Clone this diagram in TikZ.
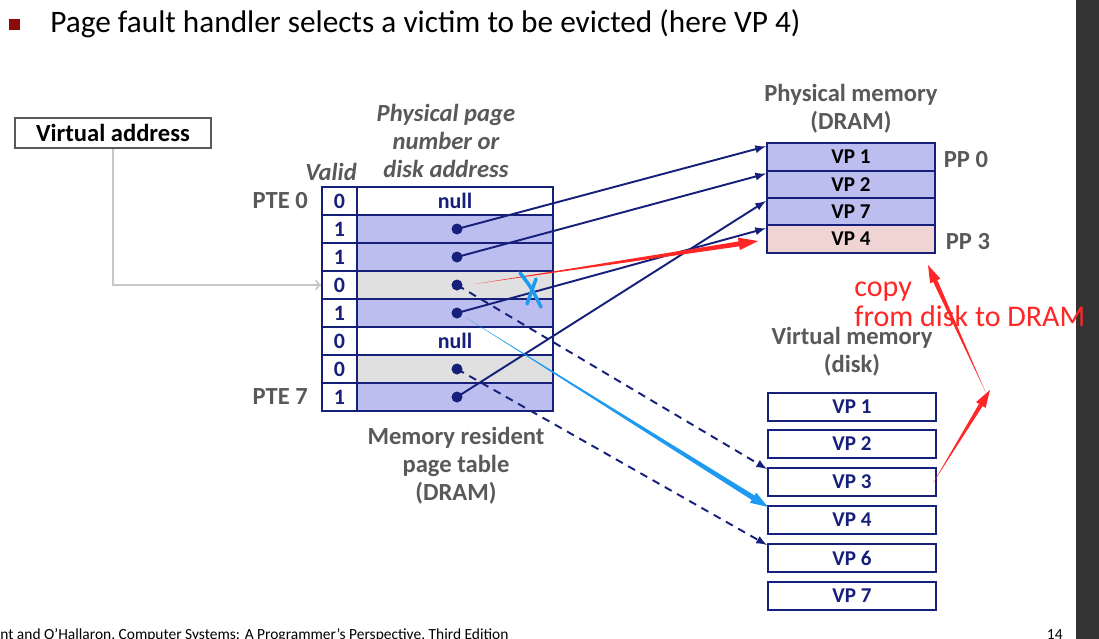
\documentclass[tikz,border=0pt]{standalone}
\usepackage{fontspec}
\setmainfont{Carlito}
\usepackage{xcolor}
\usetikzlibrary{calc, arrows}

\definecolor{pgnavy}{HTML}{16207A}
\definecolor{pgblue}{HTML}{BCBEF0}
\definecolor{pggray}{HTML}{E0E0E0}
\definecolor{pgpink}{HTML}{F0D4D4}
\definecolor{lblgray}{HTML}{595959}
\definecolor{arrgray}{HTML}{C8C8C8}
\definecolor{xblue}{HTML}{1E9BF0}
\definecolor{cpred}{HTML}{FF2626}
\definecolor{sidebar}{HTML}{333333}
\definecolor{bulletred}{HTML}{8B0A0A}

% tapered arrow: colour, start, tip, shaft half width, head half width, head length
\newcommand{\taperarrow}[6]{%
  \coordinate (tpb) at ($(#3)!#6!(#2)$);
  \fill[#1] (#2) -- ($(tpb)!#4!90:(#2)$) -- ($(tpb)!#5!90:(#2)$) -- (#3)
    -- ($(tpb)!#5!-90:(#2)$) -- ($(tpb)!#4!-90:(#2)$) -- cycle;}

\begin{document}
\begin{tikzpicture}[x=0.02cm,y=-0.02cm,
  vcell/.style={draw=pgnavy, line width=1.1pt, fill=white, minimum width=0.7cm,
    minimum height=0.56cm, inner sep=0pt, text=pgnavy,
    font=\bfseries\fontsize{12.5}{14}\selectfont},
  pcell/.style={vcell, minimum width=3.92cm},
  pmcell/.style={draw=pgnavy, line width=1.1pt, fill=pgblue, minimum width=3.36cm,
    minimum height=0.546cm, inner sep=0pt, text=black,
    font=\bfseries\fontsize{12}{14}\selectfont},
  dkcell/.style={pmcell, fill=white, text=pgnavy, minimum height=0.56cm},
  lbl/.style={text=lblgray, align=center, font=\bfseries\fontsize{14}{15.9}\selectfont},
  ptr/.style={pgnavy, line width=1.1pt, -latex},
  dptr/.style={ptr, dash pattern=on 4.5pt off 3.5pt}]
\useasboundingbox (0,0) rectangle (1099,639);
\clip (0,0) rectangle (1099,639);

% title and footer
\fill[bulletred] (9,19) rectangle (20,30);
\node[anchor=base west, inner sep=0pt, font=\fontsize{17.8}{20}\selectfont] (title) at (50,32)
  {Page fault handler selects a victim to be evicted (here VP 4)};
\node[anchor=base west, inner sep=0pt, font=\fontsize{8.8}{10}\selectfont] (foot) at (0,639)
  {nt and O'Hallaron, Computer Systems: A Programmer's Perspective, Third Edition};
\node[anchor=base east, inner sep=0pt, font=\fontsize{8.8}{10}\selectfont] (pgno) at (1063,639) {14};

% virtual address
\node[draw=lblgray, line width=0.6pt, minimum width=3.92cm, minimum height=0.6cm, inner sep=0pt,
  font=\bfseries\fontsize{14}{15}\selectfont] (va) at (113,133) {Virtual address};

% page table
\node[vcell] (v0) at (339.5,201) {0};
\node[vcell] (v1) at (339.5,229) {1};
\node[vcell] (v2) at (339.5,257) {1};
\node[vcell] (v3) at (339.5,285) {0};
\node[vcell] (v4) at (339.5,313) {1};
\node[vcell] (v5) at (339.5,341) {0};
\node[vcell] (v6) at (339.5,369) {0};
\node[vcell] (v7) at (339.5,397) {1};
\node[pcell] (p0) at (455,201) {null};
\node[pcell, fill=pgblue] (p1) at (455,229) {};
\node[pcell, fill=pgblue] (p2) at (455,257) {};
\node[pcell, fill=pggray] (p3) at (455,285) {};
\node[pcell, fill=pgblue] (p4) at (455,313) {};
\node[pcell] (p5) at (455,341) {null};
\node[pcell, fill=pggray] (p6) at (455,369) {};
\node[pcell, fill=pgblue] (p7) at (455,397) {};

\node[lbl, font=\bfseries\itshape\fontsize{14}{15.9}\selectfont] (valid) at (331,172) {Valid};
\node[lbl, font=\bfseries\itshape\fontsize{14}{15.9}\selectfont] (ppn) at (446,141)
  {Physical page\\number or\\disk address};
\node[lbl, anchor=east] (pte0) at (314,201) {PTE 0};
\node[lbl, anchor=east] (pte7) at (314,397) {PTE 7};
\node[lbl] (ptlbl) at (456,466) {Memory resident\\page table\\(DRAM)};

% physical memory
\node[lbl] (pmlbl) at (851,109) {Physical memory\\(DRAM)};
\node[pmcell] (pm0) at (851,157) {VP 1};
\node[pmcell] (pm1) at (851,184.3) {VP 2};
\node[pmcell] (pm2) at (851,211.6) {VP 7};
\node[pmcell, fill=pgpink] (pm3) at (851,238.9) {VP 4};
\node[lbl] (pp0) at (966,160) {PP 0};
\node[lbl] (pp3) at (968,242) {PP 3};

% virtual memory on disk
\node[lbl] (vmlbl) at (852,352) {Virtual memory\\(disk)};
\node[dkcell] (dk1) at (852,407) {VP 1};
\node[dkcell] (dk2) at (852,444) {VP 2};
\node[dkcell] (dk3) at (852,482) {VP 3};
\node[dkcell] (dk4) at (852,520) {VP 4};
\node[dkcell] (dk6) at (852,558) {VP 6};
\node[dkcell] (dk7) at (852,596) {VP 7};

% pointers
\coordinate (d1) at (457,229);
\coordinate (d2) at (457,257);
\coordinate (d3) at (457,285);
\coordinate (d4) at (457,313);
\coordinate (d6) at (457,369);
\coordinate (d7) at (457,397);
\draw[arrgray, line width=1.2pt, ->] (va.south) |- (v3.west);
\draw[ptr] (d1) -- ([yshift=-0.08cm]pm0.north west);
\draw[ptr] (d2) -- ([yshift=-0.08cm]pm1.north west);
\draw[ptr] (d7) -- ([yshift=-0.08cm]pm2.north west);
\draw[ptr] (d4) -- ([yshift=-0.08cm]pm3.north west);
\draw[dptr] (d3) -- ([yshift=-0.04cm]dk3.north west);
\draw[dptr] (d6) -- ([yshift=-0.04cm]dk6.north west);
\fill[pgnavy] (d1) circle (0.11cm);
\fill[pgnavy] (d2) circle (0.11cm);
\fill[pgnavy] (d3) circle (0.11cm);
\fill[pgnavy] (d4) circle (0.11cm);
\fill[pgnavy] (d6) circle (0.11cm);
\fill[pgnavy] (d7) circle (0.11cm);

% eviction and copy
\coordinate (rs) at (475,284);
\coordinate (rt) at (758,241);
\coordinate (bs) at (465,317);
\coordinate (bt) at (768,507);
\coordinate (cs) at (933,483);
\coordinate (ck) at (990,390);
\coordinate (ck2) at (986,393);
\coordinate (ct) at (928,265);
\taperarrow{cpred}{rs}{rt}{1.4pt}{3.6pt}{11pt}
\taperarrow{xblue}{bs}{bt}{1.5pt}{3.4pt}{10pt}
\taperarrow{cpred}{cs}{ck}{1.2pt}{3.2pt}{10pt}
\taperarrow{cpred}{ck2}{ct}{1.3pt}{3.2pt}{10pt}
\draw[xblue, line width=2pt, line cap=round] (520,273) .. controls (531,287) .. (541,307);
\draw[xblue, line width=2pt, line cap=round] (536,279) -- (527,304);

% right bar
\fill[sidebar] (1076,0) rectangle (1099,639);
\node[anchor=base west, inner sep=0pt, text=cpred, font=\fontsize{17.1}{20}\selectfont] (copy) at (854,296) {copy};
\node[anchor=base west, inner sep=0pt, text=cpred, font=\fontsize{17.1}{20}\selectfont] (copy2) at (854,326) {from disk to DRAM};
\end{tikzpicture}
\end{document}
